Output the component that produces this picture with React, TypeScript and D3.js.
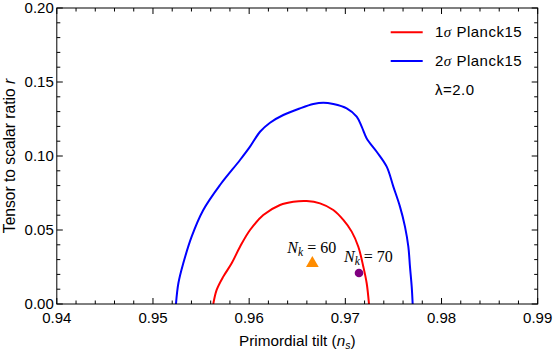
import React from 'react';
import * as d3 from 'd3';

// contour points: [n_s, r]
const sigma2Planck15: [number, number][] = [
  [0.95239, 0.0], [0.95264, 0.014], [0.95315, 0.0275], [0.95402, 0.0455],
  [0.95523, 0.0635], [0.95697, 0.0804], [0.95905, 0.0973], [0.96009, 0.1063],
  [0.96113, 0.1164], [0.96217, 0.1225], [0.96355, 0.1277], [0.96529, 0.1322],
  [0.96667, 0.1351], [0.96771, 0.136], [0.96875, 0.1351], [0.97014, 0.1322],
  [0.97118, 0.1266], [0.9717, 0.1198], [0.97222, 0.1119], [0.97326, 0.1029],
  [0.9743, 0.0928], [0.97499, 0.0793], [0.97568, 0.0658], [0.9762, 0.0523],
  [0.97655, 0.0387], [0.97672, 0.0252], [0.9769, 0.0117], [0.977, 0.0],
];
const sigma1Planck15: [number, number][] = [
  [0.95627, 0.0], [0.95662, 0.0095], [0.95731, 0.0185], [0.95818, 0.0275],
  [0.95905, 0.0387], [0.96009, 0.05], [0.96147, 0.0601], [0.96321, 0.0669],
  [0.96459, 0.0691], [0.96598, 0.0696], [0.96737, 0.068], [0.96875, 0.0635],
  [0.96979, 0.0568], [0.97066, 0.0489], [0.97135, 0.0387], [0.97187, 0.0252],
  [0.97222, 0.014], [0.97246, 0.0],
];
const nk60 = { ns: 0.96657, r: 0.0275, n: 60 };
const nk70 = { ns: 0.97142, r: 0.0209, n: 70 };

const xTicks = [0.94, 0.95, 0.96, 0.97, 0.98, 0.99];
const yTicks = [0.0, 0.05, 0.1, 0.15, 0.2];

const W = 553;
const H = 351;
const L = 56.8, R = 537.7, T = 8, B = 304;

export default function App() {
  const x = d3.scaleLinear().domain([0.94, 0.99]).range([L, R]);
  const y = d3.scaleLinear().domain([0, 0.2]).range([B, T]);
  const line = d3
    .line<[number, number]>()
    .x(d => x(d[0]))
    .y(d => y(d[1]))
    .curve(d3.curveCatmullRom);

  const xMinor = d3.range(0, 26).map(i => 0.94 + i * 0.002);
  const yMinor = d3.range(0, 21).map(i => i * 0.01);
  const isMajorX = (v: number) => Math.abs(v * 100 - Math.round(v * 100)) < 1e-6;
  const isMajorY = (v: number) => Math.abs(v * 20 - Math.round(v * 20)) < 1e-6;

  const sans = 'Liberation Sans, Arial, sans-serif';
  const serif = 'Liberation Serif, Times New Roman, serif';
  const tri = d3.symbol(d3.symbolTriangle, 70)();
  const red = '#ff0000';
  const blue = '#0000ff';

  return (
    <svg
      width={W}
      height={H}
      style={{ position: 'absolute', left: 0, top: 0, background: '#fff' }}
      fontFamily={sans}
    >
      <rect x={0} y={0} width={W} height={H} fill="#fff" />
      <defs>
        <clipPath id="plot">
          <rect x={L} y={T} width={R - L} height={B - T} />
        </clipPath>
      </defs>

      {/* contours */}
      <g clipPath="url(#plot)" fill="none" strokeWidth={2}>
        <path d={line(sigma2Planck15) || ''} stroke={blue} />
        <path d={line(sigma1Planck15) || ''} stroke={red} />
      </g>

      {/* points */}
      <path d={tri || ''} transform={`translate(${x(nk60.ns)},${y(nk60.r)})`} fill="#ff8c00" />
      <circle cx={x(nk70.ns)} cy={y(nk70.r)} r={4.3} fill="#800080" />
      <text x={x(nk60.ns) - 25} y={y(nk60.r) - 10} fontFamily={serif} fontSize={16}>
        <tspan fontStyle="italic">N</tspan>
        <tspan fontStyle="italic" fontSize={11.5} dy={3}>k</tspan>
        <tspan dy={-3}> = {nk60.n}</tspan>
      </text>
      <text x={x(nk70.ns) - 15} y={y(nk70.r) - 11.5} fontFamily={serif} fontSize={16}>
        <tspan fontStyle="italic">N</tspan>
        <tspan fontStyle="italic" fontSize={11.5} dy={3}>k</tspan>
        <tspan dy={-3}> = {nk70.n}</tspan>
      </text>

      {/* frame */}
      <rect x={L} y={T} width={R - L} height={B - T} fill="none" stroke="#000" strokeWidth={1} />
      <g stroke="#000" strokeWidth={1}>
        {xMinor.map((v, i) => {
          const len = isMajorX(v) ? 6 : 3.5;
          return (
            <g key={'x' + i}>
              <line x1={x(v)} x2={x(v)} y1={B} y2={B - len} />
              <line x1={x(v)} x2={x(v)} y1={T} y2={T + len} />
            </g>
          );
        })}
        {yMinor.map((v, i) => {
          const len = isMajorY(v) ? 6 : 3.5;
          return (
            <g key={'y' + i}>
              <line x1={L} x2={L + len} y1={y(v)} y2={y(v)} />
              <line x1={R} x2={R - len} y1={y(v)} y2={y(v)} />
            </g>
          );
        })}
      </g>

      {/* tick labels */}
      <g fontSize={15} fill="#000">
        {xTicks.map(v => (
          <text key={v} x={x(v)} y={322.5} textAnchor="middle">
            {d3.format('.2f')(v)}
          </text>
        ))}
        {yTicks.map(v => (
          <text key={v} x={L - 3} y={y(v) + 5.3} textAnchor="end">
            {d3.format('.2f')(v)}
          </text>
        ))}
      </g>

      {/* axis titles */}
      <text x={(L + R) / 2} y={346} textAnchor="middle" fontSize={15.3}>
        Primordial tilt (<tspan fontStyle="italic">n</tspan>
        <tspan fontStyle="italic" fontSize={10.5} dy={3}>s</tspan>
        <tspan dy={-3}>)</tspan>
      </text>
      <text
        transform={`translate(15,${(T + B) / 2}) rotate(-90)`}
        textAnchor="middle"
        fontSize={15.6}
      >
        Tensor to scalar ratio <tspan fontStyle="italic">r</tspan>
      </text>

      {/* legend */}
      <g fontSize={15} letterSpacing={0.5}>
        <line x1={390.7} x2={422.7} y1={32.3} y2={32.3} stroke={red} strokeWidth={2} />
        <text x={435} y={37}>
          1<tspan fontFamily={serif} fontStyle="italic">σ</tspan> Planck15
        </text>
        <line x1={390.7} x2={422.7} y1={61} y2={61} stroke={blue} strokeWidth={2} />
        <text x={435} y={66}>
          2<tspan fontFamily={serif} fontStyle="italic">σ</tspan> Planck15
        </text>
        <text x={435} y={95}>λ=2.0</text>
      </g>
    </svg>
  );
}
